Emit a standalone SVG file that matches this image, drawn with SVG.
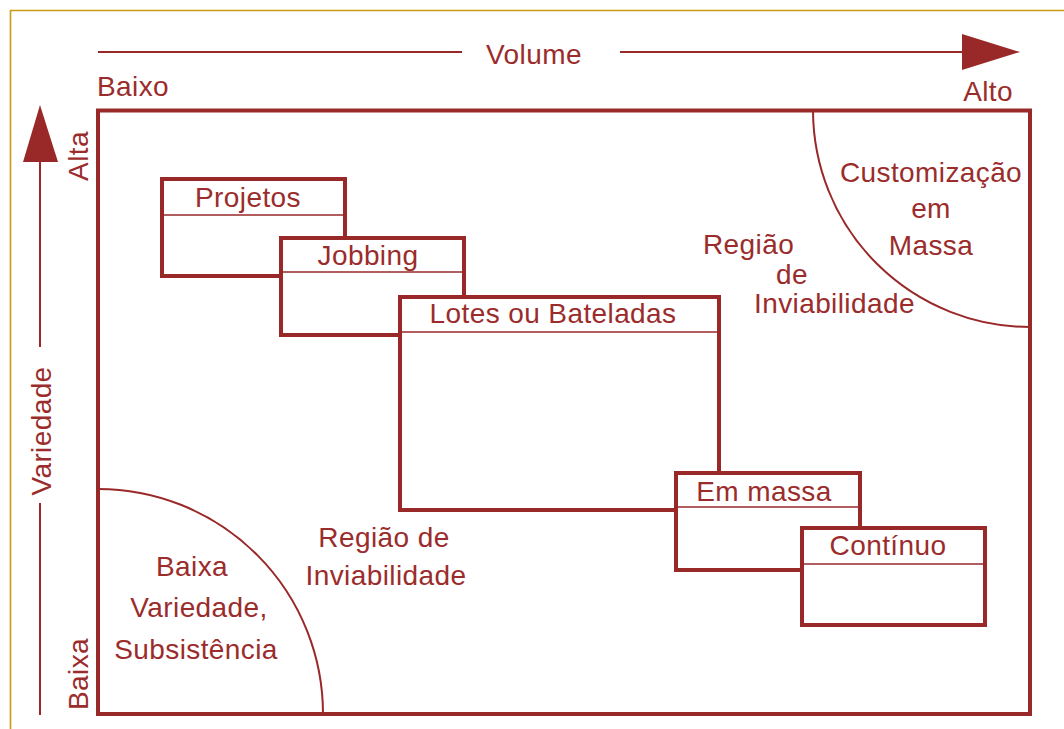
<svg xmlns="http://www.w3.org/2000/svg" width="1064" height="729" viewBox="0 0 1064 729">
<style>
.t{font-family:"Liberation Sans",Arial,sans-serif;font-size:28px;fill:#9b2c2c;letter-spacing:0.4px}
.m{text-anchor:middle}
.box{fill:#fff;stroke:#992828;stroke-width:4}
.div{stroke:#992828;stroke-width:1.6}
.thin{stroke:#992828;stroke-width:2;fill:none}
.head{fill:#992828}
</style>
<rect x="0" y="0" width="1064" height="729" fill="#fff"/>
<path d="M10.5 740 V10.5 H1070" fill="none" stroke="#c99a1a" stroke-width="1.6"/>
<g id="axes">
<line class="thin" x1="98" y1="52" x2="462" y2="52"/>
<line class="thin" x1="620" y1="52" x2="966" y2="52"/>
<polygon class="head" points="962,34 1020,52 962,70"/>
<text class="t m" x="534" y="64">Volume</text>
<text class="t" x="97" y="96">Baixo</text>
<text class="t" x="1013" y="101" text-anchor="end">Alto</text>
<line class="thin" x1="40" y1="160" x2="40" y2="347"/>
<line class="thin" x1="40" y1="503" x2="40" y2="715"/>
<polygon class="head" points="23,162 40,105 58,162"/>
<text class="t m" transform="translate(51,431) rotate(-90)">Variedade</text>
<text class="t m" transform="translate(88,156) rotate(-90)">Alta</text>
<text class="t m" transform="translate(88,674) rotate(-90)">Baixa</text>
</g>
<rect x="98" y="110.5" width="932" height="603.5" fill="none" stroke="#992828" stroke-width="4"/>
<g id="regions">
<path class="thin" d="M813 111 A217 217 0 0 0 1030 327"/>
<path class="thin" d="M98 489 A225 225 0 0 1 323 714"/>
<text class="t m" x="931" y="182">Customização</text>
<text class="t m" x="931" y="218">em</text>
<text class="t m" x="931" y="255">Massa</text>
<text class="t" x="703" y="254">Região</text>
<text class="t" x="776" y="284">de</text>
<text class="t" x="754" y="313">Inviabilidade</text>
<text class="t m" x="384" y="547">Região de</text>
<text class="t m" x="386" y="585">Inviabilidade</text>
<text class="t m" x="192" y="576">Baixa</text>
<text class="t m" x="199" y="617">Variedade,</text>
<text class="t m" x="196" y="659">Subsistência</text>
</g>
<g id="projetos">
<rect class="box" x="162" y="179" width="183" height="97"/>
<line class="div" x1="162" y1="215" x2="345" y2="215"/>
<text class="t m" x="248" y="207">Projetos</text>
</g>
<g id="jobbing">
<rect class="box" x="281" y="238" width="183" height="97"/>
<line class="div" x1="281" y1="272" x2="464" y2="272"/>
<text class="t m" x="368" y="265">Jobbing</text>
</g>
<g id="lotes">
<rect class="box" x="400" y="297" width="319" height="213"/>
<line class="div" x1="400" y1="332" x2="719" y2="332"/>
<text class="t m" x="553" y="323">Lotes ou Bateladas</text>
</g>
<g id="emmassa">
<rect class="box" x="676" y="473" width="184" height="97"/>
<line class="div" x1="676" y1="507" x2="860" y2="507"/>
<text class="t m" x="764" y="501">Em massa</text>
</g>
<g id="continuo">
<rect class="box" x="802" y="528" width="183" height="97"/>
<line class="div" x1="802" y1="564" x2="985" y2="564"/>
<text class="t m" x="888" y="555">Contínuo</text>
</g>
<g id="connectors"></g>
</svg>
